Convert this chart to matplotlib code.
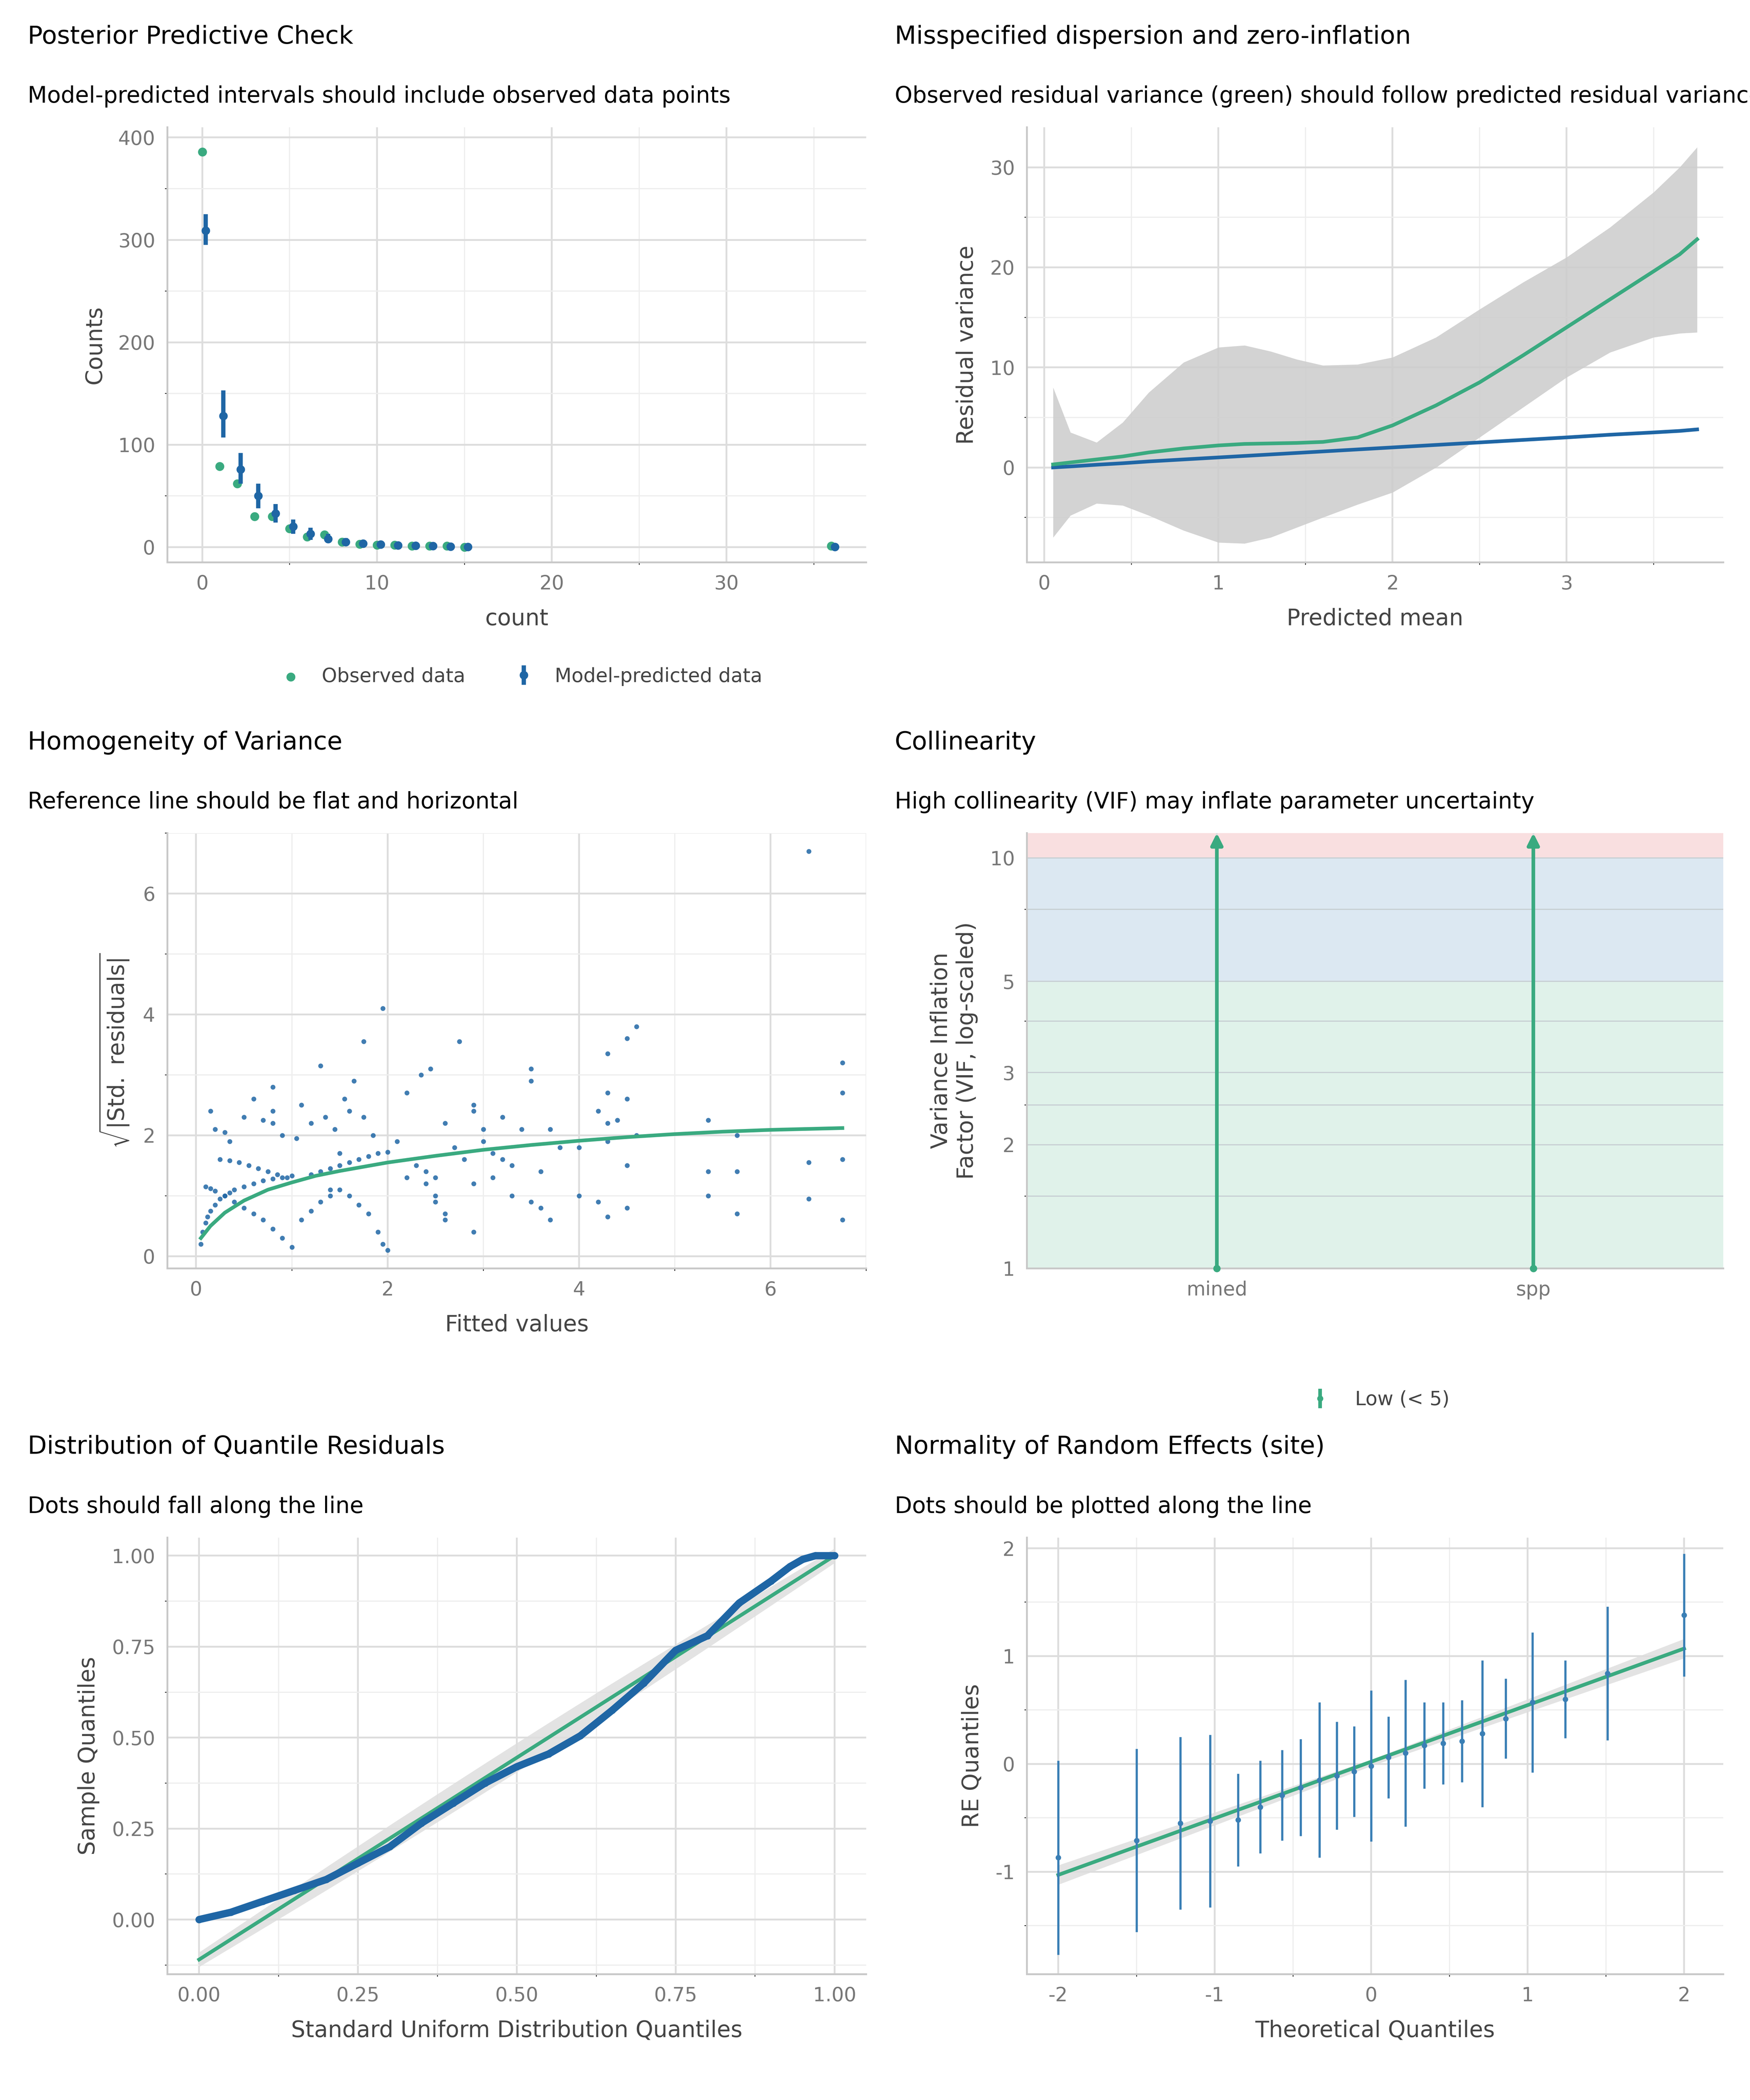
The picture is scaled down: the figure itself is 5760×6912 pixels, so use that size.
import numpy as np
import matplotlib.pyplot as plt
from matplotlib.ticker import AutoMinorLocator, FixedLocator, NullFormatter

plt.rcParams['font.family'] = ['DejaVu Sans']
plt.rcParams['axes.unicode_minus'] = False
GREEN = "#3aaa80"
BLUE = "#1f66a5"

# --- Posterior predictive check
ppc_count = [0, 1, 2, 3, 4, 5, 6, 7, 8, 9, 10, 11, 12, 13, 14, 15, 36]
ppc_obs = [386, 79, 62, 30, 30, 18, 10, 12, 5, 3, 2, 2, 1, 1, 1, 0, 1]
ppc_pred = [309, 128, 76, 50, 33, 20, 13, 8, 5, 3.5, 2.5, 1.8, 1.3, 1, 0.7, 0.4, 0.3]
ppc_lo = [295, 107, 62, 38, 24, 13, 7, 4, 2, 1, 0.5, 0.2, 0, 0, 0, 0, 0]
ppc_hi = [325, 153, 92, 62, 42, 27, 19, 13, 9, 6, 5, 4, 3, 3, 2, 1.5, 1]

# --- Dispersion
disp_x = [0.05, 0.15, 0.3, 0.45, 0.6, 0.8, 1.0, 1.15, 1.3, 1.45, 1.6, 1.8, 2.0, 2.25, 2.5,
          2.75, 3.0, 3.25, 3.5, 3.65, 3.75]
disp_obs = [0.3, 0.5, 0.8, 1.1, 1.5, 1.9, 2.2, 2.35, 2.4, 2.45, 2.55, 3.0, 4.2, 6.2, 8.5,
            11.2, 14.0, 16.8, 19.6, 21.3, 22.8]
disp_lo = [-7.0, -4.8, -3.6, -3.8, -4.8, -6.3, -7.5, -7.6, -7.0, -6.0, -5.0, -3.7, -2.5, 0.0, 3.0,
           6.0, 9.0, 11.5, 13.0, 13.4, 13.5]
disp_hi = [8.0, 3.5, 2.5, 4.5, 7.5, 10.5, 12.0, 12.2, 11.6, 10.8, 10.2, 10.3, 11.0, 13.0, 15.8,
           18.5, 21.0, 24.0, 27.5, 30.0, 32.0]
disp_pred = [0.0, 0.1, 0.27, 0.42, 0.6, 0.8, 1.0, 1.15, 1.3, 1.45, 1.6, 1.8, 2.0, 2.25, 2.5,
             2.75, 3.0, 3.27, 3.5, 3.65, 3.8]

# --- Homogeneity of variance: (fitted, sqrt|std resid|)
hov_points = [
    (0.05, 0.2), (0.07, 0.4), (0.1, 0.55), (0.12, 0.65), (0.15, 0.75), (0.2, 0.85), (0.25, 0.95),
    (0.3, 1.0), (0.35, 1.05), (0.4, 1.1), (0.5, 1.15), (0.6, 1.2), (0.7, 1.25), (0.8, 1.28),
    (0.9, 1.3), (1.0, 1.33),
    (0.1, 1.15), (0.15, 1.12), (0.2, 1.08), (0.3, 1.0), (0.4, 0.9), (0.5, 0.8), (0.6, 0.7),
    (0.7, 0.6), (0.8, 0.45), (0.9, 0.3), (1.0, 0.15),
    (0.25, 1.6), (0.35, 1.58), (0.45, 1.55), (0.55, 1.5), (0.65, 1.45), (0.75, 1.4), (0.85, 1.35),
    (0.95, 1.3), (0.2, 2.1), (0.3, 2.05), (0.5, 2.3), (0.7, 2.25), (0.8, 2.2), (0.9, 2.0),
    (1.05, 1.95), (0.15, 2.4), (0.35, 1.9), (0.6, 2.6), (0.8, 2.8), (1.1, 2.5),
    (1.2, 1.35), (1.3, 1.4), (1.4, 1.45), (1.5, 1.5), (1.6, 1.55), (1.7, 1.6), (1.8, 1.65),
    (1.9, 1.7), (2.0, 1.72),
    (1.1, 0.6), (1.2, 0.75), (1.3, 0.9), (1.4, 1.0), (1.5, 1.1), (1.6, 1.0), (1.7, 0.85),
    (1.8, 0.7), (1.9, 0.4), (1.95, 0.2), (2.0, 0.1),
    (1.2, 2.2), (1.35, 2.3), (1.45, 2.1), (1.55, 2.6), (1.65, 2.9), (1.75, 2.3), (1.85, 2.0),
    (1.3, 3.15), (1.6, 2.4), (1.75, 3.55), (1.95, 4.1), (1.5, 1.7),
    (2.1, 1.9), (2.2, 1.3), (2.3, 1.5), (2.4, 1.2), (2.5, 0.9), (2.6, 0.6), (2.7, 1.8),
    (2.8, 1.6), (2.9, 1.2), (2.2, 2.7), (2.35, 3.0), (2.45, 3.1), (2.6, 2.2), (2.75, 3.55),
    (2.9, 2.5), (2.4, 1.4), (2.5, 1.0), (2.6, 0.7), (2.9, 0.4),
    (3.0, 1.9), (3.1, 1.7), (3.2, 2.3), (3.3, 1.5), (3.4, 2.1), (3.5, 2.9), (3.6, 1.4),
    (3.7, 2.1), (3.1, 1.3), (3.3, 1.0), (3.5, 0.9), (3.6, 0.8), (3.7, 0.6), (3.8, 1.8),
    (3.5, 3.1), (3.2, 1.6), (2.9, 2.4), (3.0, 2.1),
    (4.0, 1.8), (4.2, 2.4), (4.3, 1.9), (4.3, 2.2), (4.5, 3.6), (4.5, 2.6), (4.6, 3.8),
    (4.3, 3.35), (4.4, 2.25), (4.5, 1.5), (4.6, 2.0), (4.3, 0.65), (4.0, 1.0), (4.2, 0.9),
    (4.5, 0.8),
    (5.35, 2.25), (5.35, 1.4), (5.35, 1.0), (5.65, 2.0), (5.65, 1.4), (5.65, 0.7),
    (6.4, 6.7), (6.4, 1.55), (6.4, 0.95), (6.75, 3.2), (6.75, 2.7), (6.75, 1.6), (6.75, 0.6),
    (0.8, 2.4), (1.4, 1.1), (2.5, 1.3), (4.3, 2.7),
]
hov_sx = [0.05, 0.15, 0.3, 0.5, 0.75, 1.0, 1.25, 1.5, 2.0, 2.5, 3.0, 3.5, 4.0, 4.5, 5.0, 5.5, 6.0, 6.5, 6.75]
hov_sy = [0.3, 0.5, 0.72, 0.92, 1.1, 1.22, 1.33, 1.41, 1.55, 1.66, 1.76, 1.84, 1.91, 1.97, 2.02, 2.06, 2.09, 2.11, 2.12]

# --- Collinearity
vif_terms = ["mined", "spp"]
vif_vals = [1.0, 1.0]

# --- QQ uniform
qq_x = [0, 0.05, 0.1, 0.15, 0.2, 0.25, 0.3, 0.35, 0.4, 0.45, 0.5, 0.55, 0.6, 0.65, 0.7, 0.75,
        0.8, 0.85, 0.9, 0.93, 0.95, 0.97, 1.0]
qq_y = [0, 0.02, 0.05, 0.08, 0.11, 0.155, 0.2, 0.265, 0.32, 0.375, 0.42, 0.455, 0.505, 0.575,
        0.65, 0.74, 0.78, 0.87, 0.93, 0.97, 0.99, 1.0, 1.0]

# --- Random effects
re_tq = [-2.0, -1.5, -1.22, -1.03, -0.85, -0.71, -0.57, -0.45, -0.33, -0.22, -0.11, 0.0, 0.11,
         0.22, 0.34, 0.46, 0.58, 0.71, 0.86, 1.03, 1.24, 1.51, 2.0]
re_val = [-0.87, -0.71, -0.55, -0.53, -0.52, -0.40, -0.29, -0.22, -0.15, -0.11, -0.07, -0.02,
          0.06, 0.10, 0.17, 0.19, 0.21, 0.28, 0.42, 0.57, 0.60, 0.84, 1.38]
re_hw = [0.9, 0.85, 0.8, 0.8, 0.43, 0.43, 0.42, 0.45, 0.72, 0.5, 0.42, 0.7, 0.38, 0.68, 0.4,
         0.38, 0.38, 0.68, 0.37, 0.65, 0.36, 0.62, 0.57]


def style(ax, title, sub, xlabel, ylabel, tx=-0.2):
    ax.set_facecolor("white")
    for s in ["top", "right"]:
        ax.spines[s].set_visible(False)
    for s in ["left", "bottom"]:
        ax.spines[s].set_color("#c8c8c8")
        ax.spines[s].set_linewidth(1.5)
    ax.xaxis.set_minor_locator(AutoMinorLocator(2))
    ax.yaxis.set_minor_locator(AutoMinorLocator(2))
    ax.grid(True, which="major", color="#dddddd", lw=1.5)
    ax.grid(True, which="minor", color="#eeeeee", lw=1.0)
    ax.set_axisbelow(True)
    ax.tick_params(length=0, labelsize=16, colors="#777777", pad=10)
    ax.set_xlabel(xlabel, fontsize=18.5, color="#444444", labelpad=12)
    ax.set_ylabel(ylabel, fontsize=18.5, color="#444444", labelpad=10)
    ax.text(tx, 1.18, title, transform=ax.transAxes, fontsize=20.5, ha="left", va="bottom")
    ax.text(tx, 1.045, sub, transform=ax.transAxes, fontsize=18.5, ha="left", va="bottom")


fig = plt.figure(figsize=(20, 24))
W, H = 1307, 1568
def box(x0, y0, x1, y1):
    return [x0 / W, 1 - y1 / H, (x1 - x0) / W, (y1 - y0) / H]

# Panel 1
ax = fig.add_axes(box(125, 95, 647, 420))
style(ax, "Posterior Predictive Check", "Model-predicted intervals should include observed data points", "count", "Counts")
ax.scatter(ppc_count, ppc_obs, s=40, color=GREEN, zorder=3, label="Observed data")
xp = np.array(ppc_count) + 0.2
ax.errorbar(xp, ppc_pred, yerr=[np.array(ppc_pred) - np.array(ppc_lo), np.array(ppc_hi) - np.array(ppc_pred)],
            fmt="o", ms=6, color=BLUE, elinewidth=3.5, zorder=4, label="Model-predicted data")
ax.set_xlim(-2, 38); ax.set_ylim(-15, 410)
ax.set_xticks([0, 10, 20, 30]); ax.set_yticks([0, 100, 200, 300, 400])
ax.legend(loc="upper center", bbox_to_anchor=(0.5, -0.2), ncol=2, frameon=False, fontsize=16,
          labelcolor="#444444", handletextpad=0.6, columnspacing=2)

# Panel 2
ax = fig.add_axes(box(767, 95, 1287, 420))
style(ax, "Misspecified dispersion and zero-inflation", "Observed residual variance (green) should follow predicted residual variance (blue)",
      "Predicted mean", "Residual variance", tx=-0.19)
ax.fill_between(disp_x, disp_lo, disp_hi, color="#cccccc", alpha=0.85, lw=0)
ax.plot(disp_x, disp_pred, color=BLUE, lw=3)
ax.plot(disp_x, disp_obs, color=GREEN, lw=3)
ax.set_xlim(-0.1, 3.9); ax.set_ylim(-9.5, 34)
ax.set_xticks([0, 1, 2, 3]); ax.set_yticks([0, 10, 20, 30])

# Panel 3
ax = fig.add_axes(box(125, 622, 647, 947))
style(ax, "Homogeneity of Variance", "Reference line should be flat and horizontal", "Fitted values", r"$\sqrt{|\mathrm{Std.\ residuals}|}$")
hx, hy = zip(*hov_points)
ax.scatter(hx, hy, s=16, color=BLUE, alpha=0.85, zorder=3, lw=0)
ax.plot(hov_sx, hov_sy, color=GREEN, lw=3, zorder=4)
ax.set_xlim(-0.3, 7.0); ax.set_ylim(-0.2, 7.0)
ax.set_xticks([0, 2, 4, 6]); ax.set_yticks([0, 2, 4, 6])

# Panel 4
ax = fig.add_axes(box(767, 622, 1287, 947))
style(ax, "Collinearity", "High collinearity (VIF) may inflate parameter uncertainty", "", "Variance Inflation\nFactor (VIF, log-scaled)", tx=-0.19)
ax.set_yscale("log")
ax.set_xlim(0.4, 2.6); ax.set_ylim(1, 11.5)
ax.axhspan(1, 5, color="#e0f2ea", zorder=0)
ax.axhspan(5, 10, color="#dce8f2", zorder=0)
ax.axhspan(10, 11.5, color="#f9dfe0", zorder=0)
ax.yaxis.set_major_locator(FixedLocator([1, 2, 3, 5, 10]))
ax.set_yticklabels(["1", "2", "3", "5", "10"])
ax.yaxis.set_minor_locator(FixedLocator([1.5, 2.5, 4, 7.5]))
ax.yaxis.set_minor_formatter(NullFormatter())
ax.set_xticks([1, 2]); ax.set_xticklabels(vif_terms)
ax.xaxis.set_minor_locator(FixedLocator([]))
ax.grid(False)
ax.grid(True, axis="x", which="major", color="#dddddd", lw=1.5)
ax.grid(True, which="both", axis="y", color="#c8d0d4", lw=1.0)
for i, v in enumerate(vif_vals):
    ax.annotate("", xy=(i + 1, 11.5), xytext=(i + 1, v), xycoords="data",
                arrowprops=dict(arrowstyle="-|>", color=GREEN, lw=3, mutation_scale=20, shrinkA=0, shrinkB=0), zorder=4)
    ax.plot(i + 1, v, "o", color=GREEN, ms=5, clip_on=False, zorder=5)
ax.errorbar([np.nan], [np.nan], yerr=[np.nan], fmt="o", ms=4, color=GREEN, elinewidth=3, label="Low (< 5)")
ax.legend(loc="upper center", bbox_to_anchor=(0.5, -0.24), frameon=False, fontsize=16, labelcolor="#444444")

# Panel 5
ax = fig.add_axes(box(125, 1148, 647, 1474))
style(ax, "Distribution of Quantile Residuals", "Dots should fall along the line", "Standard Uniform Distribution Quantiles", "Sample Quantiles")
qx = np.array(qq_x)
ax.fill_between(qx, qx * 1.11 - 0.13 - 0.02 * np.sin(np.pi * qx), qx * 1.11 - 0.09 + 0.02 * np.sin(np.pi * qx),
                color="#dddddd", alpha=0.8, lw=0)
ax.plot([0, 1], [-0.11, 1.0], color=GREEN, lw=3, zorder=3)
ax.plot(qq_x, qq_y, color=BLUE, lw=6, marker="o", ms=5, zorder=4, solid_capstyle="round")
ax.set_xlim(-0.05, 1.05); ax.set_ylim(-0.15, 1.05)
ax.set_xticks([0, 0.25, 0.5, 0.75, 1.0]); ax.set_xticklabels(["0.00", "0.25", "0.50", "0.75", "1.00"])
ax.set_yticks([0, 0.25, 0.5, 0.75, 1.0]); ax.set_yticklabels(["0.00", "0.25", "0.50", "0.75", "1.00"])

# Panel 6
ax = fig.add_axes(box(767, 1148, 1287, 1474))
style(ax, "Normality of Random Effects (site)", "Dots should be plotted along the line", "Theoretical Quantiles", "RE Quantiles", tx=-0.19)
ax.fill_between([-2, 0, 2], [-1.12, -0.02, 0.98], [-0.94, 0.04, 1.16], color="#dddddd", alpha=0.8, lw=0)
ax.plot([-2, 2], [-1.03, 1.07], color=GREEN, lw=3, zorder=3)
ax.errorbar(re_tq, re_val, yerr=re_hw, fmt="o", ms=3.5, color="#3a7fb5", elinewidth=1.8, zorder=4)
ax.set_xlim(-2.2, 2.25); ax.set_ylim(-1.95, 2.1)
ax.set_xticks([-2, -1, 0, 1, 2]); ax.set_yticks([-1, 0, 1, 2])

fig.savefig("out.png", dpi=288, facecolor="white")
